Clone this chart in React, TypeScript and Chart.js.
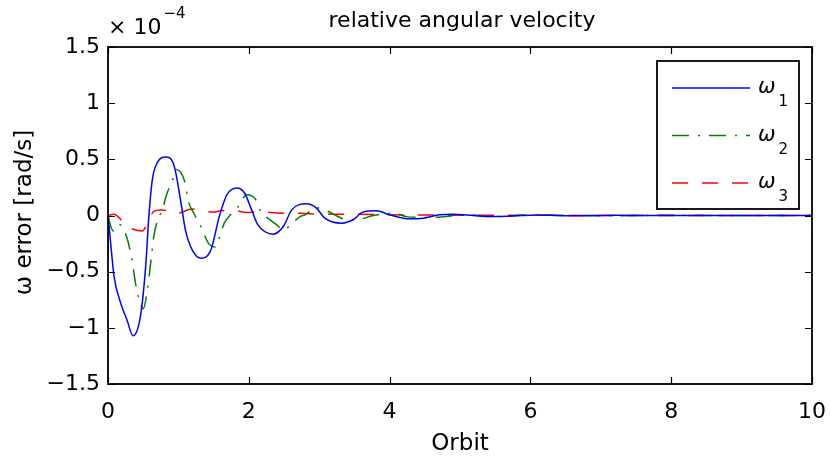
import React, { useEffect, useRef } from 'react';
import { Chart, registerables } from 'chart.js';

Chart.register(...registerables);

// ---------- text ----------
const TITLE = 'relative angular velocity';
const X_LABEL = 'Orbit';
const Y_LABEL = 'ω error [rad/s]';
const Y_MULTIPLIER = '× 10';
const Y_EXPONENT = '−4';

// ---------- ticks ----------
const X_TICKS = [0, 2, 4, 6, 8, 10];
const Y_TICKS = [-1.5, -1, -0.5, 0, 0.5, 1, 1.5];

// ---------- series (values in units of 1e-4 rad/s) ----------
const SERIES_SYMBOL = 'ω';
const SERIES_SUBSCRIPTS = ['1', '2', '3'];
const SERIES_COLORS = ['#0000ff', '#008000', '#ff0000'];

const w1Orbit = [0, 0.043, 0.085, 0.18, 0.27, 0.355, 0.46, 0.535, 0.58, 0.63, 0.7, 0.82, 0.94, 1.03, 1.1, 1.2, 1.32, 1.46, 1.58, 1.69, 1.83, 1.94, 2.04, 2.13, 2.35, 2.49, 2.61, 2.82, 2.96, 3.08, 3.32, 3.48, 3.62, 3.81, 4.0, 4.29, 4.48, 4.71, 4.9, 5.19, 5.42, 5.75, 6.1, 6.6, 7.2, 8, 9, 10];
const w1Error = [0, -0.28, -0.54, -0.78, -0.93, -1.07, -0.9, -0.455, -0.01, 0.32, 0.47, 0.52, 0.44, 0.14, -0.13, -0.31, -0.38, -0.31, -0.01, 0.185, 0.245, 0.2, 0.05, -0.083, -0.166, -0.098, 0.05, 0.104, 0.066, -0.023, -0.068, -0.038, 0.03, 0.042, 0.006, -0.03, -0.024, 0.006, 0.012, 0, -0.01, -0.004, 0.004, -0.002, 0.002, 0, 0, 0];

const w2Orbit = [0, 0.04, 0.085, 0.16, 0.27, 0.35, 0.39, 0.44, 0.5, 0.56, 0.61, 0.65, 0.7, 0.77, 0.84, 0.91, 0.97, 1.08, 1.15, 1.22, 1.32, 1.43, 1.53, 1.6, 1.65, 1.74, 1.85, 1.97, 2.09, 2.18, 2.25, 2.37, 2.51, 2.58, 2.73, 2.8, 2.96, 3.13, 3.22, 3.4, 3.6, 3.77, 4.07, 4.24, 4.57, 5.09, 5.5, 6, 7, 8, 9, 10];
const w2Error = [0, -0.1, -0.14, -0.08, -0.2, -0.43, -0.6, -0.74, -0.83, -0.66, -0.4, -0.19, -0.05, 0.05, 0.2, 0.3, 0.41, 0.32, 0.11, 0.02, -0.1, -0.25, -0.28, -0.16, -0.07, 0.006, 0.08, 0.185, 0.15, 0.02, -0.015, -0.07, -0.13, -0.09, -0.01, 0.006, 0.07, 0.036, 0.006, -0.038, -0.03, 0, 0.02, -0.01, -0.018, 0.006, -0.01, 0.004, -0.002, 0.002, 0, 0];

const w3Orbit = [0, 0.085, 0.16, 0.23, 0.35, 0.49, 0.56, 0.65, 0.75, 0.87, 0.96, 1.2, 1.32, 1.5, 1.6, 1.78, 1.97, 2.16, 2.3, 2.56, 2.75, 2.99, 3.43, 4.0, 4.5, 5, 6, 7, 8, 9, 10];
const w3Error = [0, 0.012, -0.02, -0.083, -0.12, -0.137, -0.068, 0.036, 0.05, 0.036, 0.015, 0.057, 0.045, 0.03, 0.042, 0.045, 0.027, 0.036, 0.027, 0.02, 0.02, 0.012, 0.012, 0.006, 0.004, 0.002, 0.002, 0, 0, 0, 0];

const SERIES_X = [w1Orbit, w2Orbit, w3Orbit];
const SERIES_Y = [w1Error, w2Error, w3Error];
const SERIES_DASH: number[][] = [[], [17, 9, 2, 9], [16, 14]];

const FONT = '"DejaVu Sans"';

const fmt = (v: number) => String(v).replace('-', '\u2212');

const decorPlugin = {
  id: 'decor',
  afterDraw(chart: any) {
    const { ctx, chartArea, scales } = chart;
    const { left, top, right, bottom } = chartArea;
    const xs = scales.x;
    const ys = scales.y;
    ctx.save();

    // frame
    ctx.strokeStyle = '#000';
    ctx.lineWidth = 1.8;
    ctx.strokeRect(left, top, right - left, bottom - top);

    // inward ticks
    const tl = 7;
    ctx.beginPath();
    X_TICKS.forEach((v) => {
      const px = Math.round(xs.getPixelForValue(v)) + 0.5;
      ctx.moveTo(px, bottom); ctx.lineTo(px, bottom - tl);
      ctx.moveTo(px, top); ctx.lineTo(px, top + tl);
    });
    Y_TICKS.forEach((v) => {
      const py = Math.round(ys.getPixelForValue(v)) + 0.5;
      ctx.moveTo(left, py); ctx.lineTo(left + tl, py);
      ctx.moveTo(right, py); ctx.lineTo(right - tl, py);
    });
    ctx.lineWidth = 1.2;
    ctx.stroke();

    // texts
    ctx.fillStyle = '#000';
    ctx.textBaseline = 'alphabetic';
    ctx.textAlign = 'center';
    ctx.font = `22px ${FONT}`;
    ctx.fillText(TITLE, (left + right) / 2 + 2, 27);

    ctx.font = `23px ${FONT}`;
    ctx.fillText(X_LABEL, (left + right) / 2, 450);

    ctx.save();
    ctx.translate(31, (top + bottom) / 2 - 3);
    ctx.rotate(-Math.PI / 2);
    ctx.font = `23px ${FONT}`;
    ctx.fillText(Y_LABEL, 0, 0);
    ctx.restore();

    ctx.textAlign = 'left';
    ctx.font = `22px ${FONT}`;
    ctx.fillText(Y_MULTIPLIER, left, 34);
    const mw = ctx.measureText(Y_MULTIPLIER).width;
    ctx.font = `15px ${FONT}`;
    ctx.fillText(Y_EXPONENT, left + mw + 2, 18);

    // legend
    const bw = 142, bh = 148;
    const bx = right - 13 - bw;
    const by = top + 14;
    ctx.fillStyle = '#fff';
    ctx.fillRect(bx, by, bw, bh);
    ctx.strokeStyle = '#000';
    ctx.lineWidth = 1.8;
    ctx.strokeRect(bx, by, bw, bh);
    chart.data.datasets.forEach((ds: any, i: number) => {
      const ly = by + 27 + i * 47.5;
      ctx.beginPath();
      ctx.setLineDash(ds.borderDash || []);
      ctx.strokeStyle = ds.borderColor;
      ctx.lineWidth = ds.borderWidth;
      ctx.moveTo(bx + 15, ly);
      ctx.lineTo(bx + 93, ly);
      ctx.stroke();
      ctx.setLineDash([]);
      ctx.fillStyle = '#000';
      ctx.font = `italic 21px ${FONT}`;
      ctx.fillText(SERIES_SYMBOL, bx + 101, ly + 5);
      const ow = ctx.measureText(SERIES_SYMBOL).width;
      ctx.font = `15px ${FONT}`;
      ctx.fillText(SERIES_SUBSCRIPTS[i], bx + 101 + ow + 3, ly + 18);
    });

    ctx.restore();
  },
};

export default function App() {
  const ref = useRef<HTMLCanvasElement | null>(null);

  useEffect(() => {
    if (!ref.current) return;
    const datasets = SERIES_X.map((xsArr, i) => ({
      label: SERIES_SYMBOL + SERIES_SUBSCRIPTS[i],
      data: xsArr.map((x, j) => ({ x, y: SERIES_Y[i][j] })),
      borderColor: SERIES_COLORS[i],
      backgroundColor: SERIES_COLORS[i],
      borderWidth: 1.5,
      borderDash: SERIES_DASH[i],
      pointRadius: 0,
      fill: false,
      cubicInterpolationMode: 'monotone' as const,
    }));

    const chart = new Chart(ref.current, {
      type: 'line',
      data: { datasets },
      plugins: [decorPlugin],
      options: {
        animation: false,
        responsive: false,
        devicePixelRatio: 1,
        layout: { padding: { left: 0, top: 47, right: 19, bottom: 0 } },
        plugins: {
          legend: { display: false },
          title: { display: false },
          tooltip: { enabled: false },
        },
        scales: {
          x: {
            type: 'linear',
            min: 0,
            max: 10,
            afterBuildTicks: (s: any) => { s.ticks = X_TICKS.map((value) => ({ value })); },
            afterFit: (s: any) => { s.height = 74; s.paddingLeft = 0; s.paddingRight = 0; },
            grid: { display: false, drawTicks: false },
            border: { display: false },
            ticks: {
              color: '#000',
              font: { family: FONT, size: 22 },
              padding: 15,
              maxRotation: 0,
              autoSkip: false,
              callback: (v: any) => fmt(Number(v)),
            },
          },
          y: {
            type: 'linear',
            min: -1.5,
            max: 1.5,
            afterBuildTicks: (s: any) => { s.ticks = Y_TICKS.map((value) => ({ value })); },
            afterFit: (s: any) => { s.width = 108; s.paddingTop = 0; s.paddingBottom = 0; },
            grid: { display: false, drawTicks: false },
            border: { display: false },
            ticks: {
              color: '#000',
              font: { family: FONT, size: 22 },
              padding: 8,
              autoSkip: false,
              callback: (v: any) => fmt(Number(v)),
            },
          },
        },
      },
    });
    return () => chart.destroy();
  }, []);

  return (
    <div style={{ position: 'absolute', left: 0, top: 0, width: 831, height: 458 }}>
      <canvas ref={ref} width={831} height={458} style={{ display: 'block' }} />
    </div>
  );
}
